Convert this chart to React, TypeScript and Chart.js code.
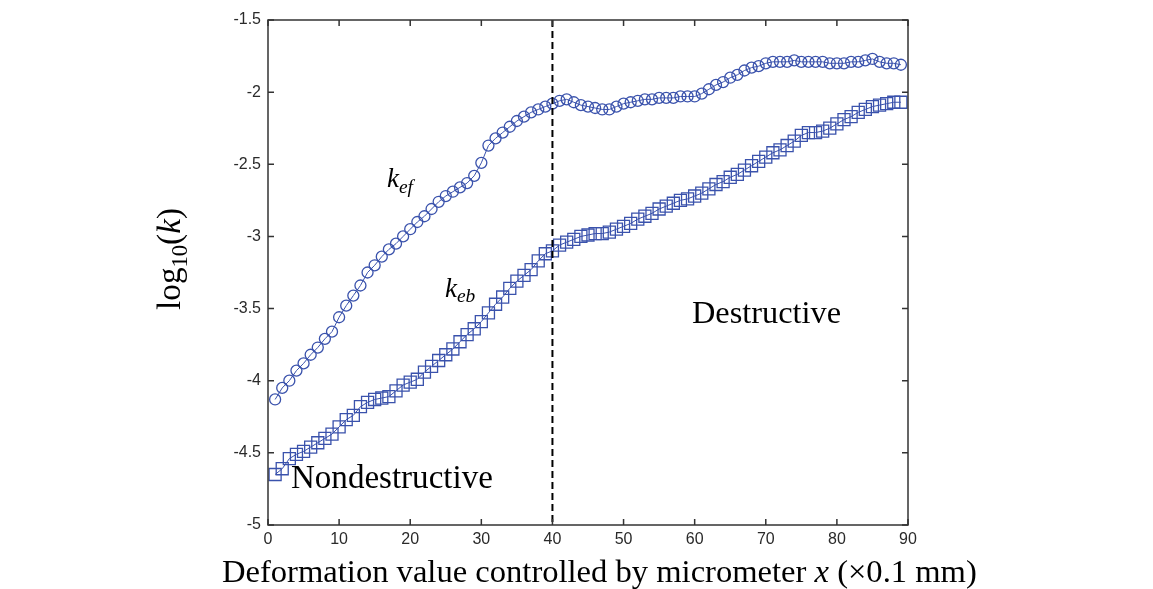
import React, { useEffect, useRef } from "react";
import { Chart, registerables } from "chart.js";

Chart.register(...registerables);

// Deformation value x (×0.1 mm)
const xValues = [
  1, 2, 3, 4, 5, 6, 7, 8, 9, 10, 11, 12, 13, 14, 15, 16, 17, 18, 19, 20,
  21, 22, 23, 24, 25, 26, 27, 28, 29, 30, 31, 32, 33, 34, 35, 36, 37, 38, 39, 40,
  41, 42, 43, 44, 45, 46, 47, 48, 49, 50, 51, 52, 53, 54, 55, 56, 57, 58, 59, 60,
  61, 62, 63, 64, 65, 66, 67, 68, 69, 70, 71, 72, 73, 74, 75, 76, 77, 78, 79, 80,
  81, 82, 83, 84, 85, 86, 87, 88, 89,
];

// log10(k_ef) — circles
const kefValues = [
  -4.13, -4.05, -4.0, -3.93, -3.88, -3.82, -3.77, -3.71, -3.66, -3.56,
  -3.48, -3.41, -3.34, -3.25, -3.2, -3.14, -3.09, -3.05, -3.0, -2.95,
  -2.9, -2.86, -2.81, -2.76, -2.72, -2.69, -2.66, -2.63, -2.58, -2.49,
  -2.37, -2.32, -2.28, -2.24, -2.2, -2.17, -2.14, -2.12, -2.1, -2.08,
  -2.06, -2.05, -2.07, -2.09, -2.1, -2.11, -2.12, -2.12, -2.1, -2.08,
  -2.07, -2.06, -2.05, -2.05, -2.04, -2.04, -2.04, -2.03, -2.03, -2.03,
  -2.01, -1.98, -1.95, -1.93, -1.9, -1.88, -1.85, -1.83, -1.82, -1.8,
  -1.79, -1.79, -1.79, -1.78, -1.79, -1.79, -1.79, -1.79, -1.8, -1.8,
  -1.8, -1.79, -1.79, -1.78, -1.77, -1.79, -1.8, -1.8, -1.81,
];

// log10(k_eb) — squares
const kebValues = [
  -4.65, -4.61, -4.54, -4.51, -4.49, -4.46, -4.43, -4.4, -4.37, -4.32,
  -4.27, -4.24, -4.18, -4.15, -4.13, -4.12, -4.11, -4.07, -4.03, -4.01,
  -3.99, -3.94, -3.9, -3.86, -3.82, -3.78, -3.73, -3.68, -3.64, -3.59,
  -3.53, -3.47, -3.42, -3.36, -3.31, -3.27, -3.23, -3.17, -3.12, -3.1,
  -3.06, -3.04, -3.02, -3.0, -2.99, -2.98, -2.98, -2.97, -2.95, -2.93,
  -2.91, -2.88, -2.86, -2.84, -2.81, -2.79, -2.77, -2.75, -2.74, -2.72,
  -2.7, -2.67, -2.64, -2.62, -2.59, -2.57, -2.54, -2.51, -2.48, -2.45,
  -2.42, -2.4, -2.37, -2.34, -2.3, -2.28, -2.28, -2.27, -2.25, -2.22,
  -2.19, -2.17, -2.14, -2.12, -2.1, -2.09, -2.08, -2.07, -2.07,
];

const xTicks = [0, 10, 20, 30, 40, 50, 60, 70, 80, 90];
const yTicks = [-1.5, -2, -2.5, -3, -3.5, -4, -4.5, -5];
const boundaryX = 40;

const COLOR = "rgb(58, 82, 172)";
const SERIF = "'Liberation Serif', 'DejaVu Serif', serif";
const SANS = "'Liberation Sans', Arial, sans-serif";

type Run = { text: string; italic?: boolean; rel: number; dy: number };

function runsWidth(ctx: CanvasRenderingContext2D, runs: Run[], size: number) {
  let w = 0;
  for (const r of runs) {
    ctx.font = `${r.italic ? "italic " : ""}${size * r.rel}px ${SERIF}`;
    w += ctx.measureText(r.text).width;
  }
  return w;
}

function fitSize(ctx: CanvasRenderingContext2D, runs: Run[], target: number) {
  return (100 * target) / runsWidth(ctx, runs, 100);
}

function drawRuns(
  ctx: CanvasRenderingContext2D,
  runs: Run[],
  size: number,
  x: number,
  y: number
) {
  let cx = x;
  ctx.textAlign = "left";
  ctx.textBaseline = "alphabetic";
  for (const r of runs) {
    ctx.font = `${r.italic ? "italic " : ""}${size * r.rel}px ${SERIF}`;
    ctx.fillText(r.text, cx, y + r.dy * size);
    cx += ctx.measureText(r.text).width;
  }
}

const framePlugin = {
  id: "frame",
  afterDraw(chart: any) {
    const { ctx, chartArea } = chart;
    const xs = chart.scales.x;
    const ys = chart.scales.y;
    const { left, right, top, bottom } = chartArea;
    ctx.save();

    // dashed boundary line
    const bx = xs.getPixelForValue(boundaryX);
    ctx.strokeStyle = "#000";
    ctx.lineWidth = 2;
    ctx.setLineDash([7, 4]);
    ctx.beginPath();
    ctx.moveTo(bx, top);
    ctx.lineTo(bx, bottom);
    ctx.stroke();
    ctx.setLineDash([]);

    // box and inward ticks
    ctx.strokeStyle = "#333";
    ctx.lineWidth = 1.5;
    ctx.strokeRect(left, top, right - left, bottom - top);
    const tl = 6;
    ctx.beginPath();
    for (const v of xTicks) {
      const px = xs.getPixelForValue(v);
      ctx.moveTo(px, bottom);
      ctx.lineTo(px, bottom - tl);
      ctx.moveTo(px, top);
      ctx.lineTo(px, top + tl);
    }
    for (const v of yTicks) {
      const py = ys.getPixelForValue(v);
      ctx.moveTo(left, py);
      ctx.lineTo(left + tl, py);
      ctx.moveTo(right, py);
      ctx.lineTo(right - tl, py);
    }
    ctx.stroke();

    ctx.fillStyle = "#000";

    // region labels
    const ndRuns: Run[] = [{ text: "Nondestructive", rel: 1, dy: 0 }];
    drawRuns(ctx, ndRuns, fitSize(ctx, ndRuns, 202), xs.getPixelForValue(3.23), ys.getPixelForValue(-4.743));
    const dRuns: Run[] = [{ text: "Destructive", rel: 1, dy: 0 }];
    drawRuns(ctx, dRuns, fitSize(ctx, dRuns, 149), xs.getPixelForValue(59.63), ys.getPixelForValue(-3.6));

    // curve labels
    const kef: Run[] = [
      { text: "k", italic: true, rel: 1, dy: 0 },
      { text: "ef", italic: true, rel: 0.72, dy: 0.22 },
    ];
    drawRuns(ctx, kef, 27, xs.getPixelForValue(16.73), ys.getPixelForValue(-2.657));
    const keb: Run[] = [
      { text: "k", italic: true, rel: 1, dy: 0 },
      { text: "eb", italic: true, rel: 0.72, dy: 0.2 },
    ];
    drawRuns(ctx, keb, 27, xs.getPixelForValue(24.89), ys.getPixelForValue(-3.42));

    // x-axis title
    const xt: Run[] = [
      { text: "Deformation value controlled by micrometer ", rel: 1, dy: 0 },
      { text: "x", italic: true, rel: 1, dy: 0 },
      { text: " (×0.1 mm)", rel: 1, dy: 0 },
    ];
    drawRuns(ctx, xt, fitSize(ctx, xt, 755), 222, 582);

    // y-axis title (rotated)
    const yt: Run[] = [
      { text: "log", rel: 1, dy: 0 },
      { text: "10", rel: 0.68, dy: 0.2 },
      { text: "(", rel: 1, dy: 0 },
      { text: "k", italic: true, rel: 1, dy: 0 },
      { text: ")", rel: 1, dy: 0 },
    ];
    const ySize = fitSize(ctx, yt, 102);
    const yw = runsWidth(ctx, yt, ySize);
    ctx.translate(180, 259);
    ctx.rotate(-Math.PI / 2);
    drawRuns(ctx, yt, ySize, -yw / 2, 0);

    ctx.restore();
  },
};

export default function App() {
  const ref = useRef<HTMLCanvasElement>(null);

  useEffect(() => {
    if (!ref.current) return;
    const chart = new Chart(ref.current, {
      type: "line",
      data: {
        datasets: [
          {
            label: "k_ef",
            data: xValues.map((x, i) => ({ x, y: kefValues[i] })),
            borderColor: COLOR,
            borderWidth: 1,
            pointStyle: "circle",
            pointRadius: 5.5,
            pointBorderWidth: 1.3,
            pointBorderColor: COLOR,
            pointBackgroundColor: "rgba(0,0,0,0)",
            fill: false,
            tension: 0,
          },
          {
            label: "k_eb",
            data: xValues.map((x, i) => ({ x, y: kebValues[i] })),
            borderColor: COLOR,
            borderWidth: 1,
            pointStyle: "rect",
            pointRadius: 8.5,
            pointBorderWidth: 1.3,
            pointBorderColor: COLOR,
            pointBackgroundColor: "rgba(0,0,0,0)",
            fill: false,
            tension: 0,
          },
        ],
      },
      options: {
        animation: false,
        responsive: false,
        layout: { padding: { left: 0, right: 245, top: 20, bottom: 0 } },
        plugins: { legend: { display: false }, tooltip: { enabled: false } },
        scales: {
          x: {
            type: "linear",
            min: 0,
            max: 90,
            afterBuildTicks: (s: any) => {
              s.ticks = xTicks.map((v) => ({ value: v }));
            },
            afterFit: (s: any) => {
              s.height = 64;
            },
            grid: { display: false, drawTicks: false },
            border: { display: false },
            ticks: {
              padding: 5,
              color: "#2a2a2a",
              font: { family: SANS, size: 16 },
              maxRotation: 0,
              autoSkip: false,
              callback: (v: any) => String(v),
            },
          },
          y: {
            type: "linear",
            min: -5,
            max: -1.5,
            afterBuildTicks: (s: any) => {
              s.ticks = yTicks.map((v) => ({ value: v }));
            },
            afterFit: (s: any) => {
              s.width = 268;
            },
            grid: { display: false, drawTicks: false },
            border: { display: false },
            ticks: {
              padding: 7,
              color: "#2a2a2a",
              font: { family: SANS, size: 16 },
              autoSkip: false,
              callback: (v: any) => String(v),
            },
          },
        },
      },
      plugins: [framePlugin],
    } as any);
    return () => chart.destroy();
  }, []);

  return (
    <div
      style={{
        position: "fixed",
        left: 0,
        top: 0,
        width: 1153,
        height: 589,
        background: "#fff",
      }}
    >
      <canvas ref={ref} width={1153} height={589} style={{ display: "block" }} />
    </div>
  );
}
